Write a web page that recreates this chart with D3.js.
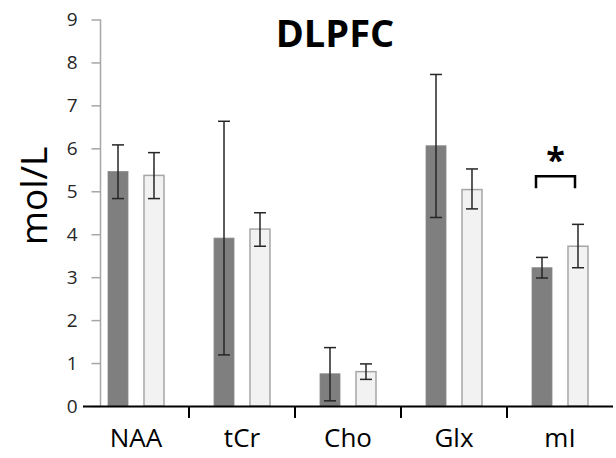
<!DOCTYPE html>
<html>
<head>
<meta charset="utf-8">
<script src="https://cdn.jsdelivr.net/npm/d3@7"></script>
<style>
  body { margin: 0; background: #fff; }
  text { font-family: 'Open Sans', sans-serif; }
</style>
</head>
<body>
<svg id="chart"></svg>
<script>
const categories = ['NAA', 'tCr', 'Cho', 'Glx', 'mI'];
const groups = ['g1', 'g2'];
const g1Values = [5.46, 3.91, 0.75, 6.06, 3.22];
const g1Low = [4.83, 1.19, 0.12, 4.39, 2.98];
const g1High = [6.08, 6.63, 1.36, 7.72, 3.46];
const g2Values = [5.37, 4.12, 0.80, 5.04, 3.72];
const g2Low = [4.83, 3.72, 0.62, 4.59, 3.22];
const g2High = [5.90, 4.50, 0.98, 5.52, 4.23];
const yTicks = [0, 1, 2, 3, 4, 5, 6, 7, 8, 9];
const significant = ['mI'];

const svgWidth = 616;
const svgHeight = 458;

const svg = d3.select('#chart')
  .attr('width', svgWidth)
  .attr('height', svgHeight);

const x0 = d3.scaleBand()
  .domain(categories)
  .range([83, 613]);

const x1 = d3.scaleBand()
  .domain(groups)
  .range([x0.bandwidth() / 2 - 28, x0.bandwidth() / 2 + 28])
  .paddingInner(0.444);

const y = d3.scaleLinear()
  .domain([0, 9])
  .range([406, 19.5]);

const fills = { g1: '#7f7f7f', g2: '#f2f2f2' };
const strokes = { g1: '#8a8a8a', g2: '#a6a6a6' };

const rows = categories.map((c, i) => ({
  cat: c,
  g1: { v: g1Values[i], lo: g1Low[i], hi: g1High[i] },
  g2: { v: g2Values[i], lo: g2Low[i], hi: g2High[i] },
}));

// y-axis (gray line, ticks on the left)
const yAxis = svg.append('g')
  .attr('transform', `translate(${100.5},0)`)
  .call(d3.axisLeft(y).tickValues(yTicks).tickSize(9).tickPadding(14));
yAxis.select('.domain').attr('stroke', '#a6a6a6').attr('stroke-width', 1.5)
  .attr('d', `M0,${y(9)}V${y(0)}`);
yAxis.selectAll('.tick line').attr('stroke', '#a6a6a6').attr('stroke-width', 1.5);
yAxis.selectAll('.tick text')
  .attr('font-size', 19)
  .attr('fill', '#262626')
  .attr('font-family', "'Open Sans', sans-serif");

// bars
const groupSel = svg.append('g')
  .selectAll('g')
  .data(rows)
  .enter()
  .append('g')
  .attr('transform', d => `translate(${x0(d.cat)},0)`);

groupSel.selectAll('rect')
  .data(d => groups.map(k => ({ key: k, ...d[k] })))
  .enter()
  .append('rect')
  .attr('x', d => x1(d.key))
  .attr('y', d => y(d.v))
  .attr('width', x1.bandwidth())
  .attr('height', d => y(0) - y(d.v))
  .attr('fill', d => fills[d.key])
  .attr('stroke', d => strokes[d.key])
  .attr('stroke-width', d => (d.key === 'g2' ? 1.5 : 0.8));

// error bars
const err = groupSel.selectAll('g.err')
  .data(d => groups.map(k => ({ key: k, ...d[k] })))
  .enter()
  .append('g')
  .attr('class', 'err')
  .attr('stroke', '#262626')
  .attr('stroke-width', 1.5);

const cx = d => x1(d.key) + x1.bandwidth() / 2;
err.append('line')
  .attr('x1', cx).attr('x2', cx)
  .attr('y1', d => y(d.lo)).attr('y2', d => y(d.hi));
['lo', 'hi'].forEach((end) => {
  err.append('line')
    .attr('x1', d => cx(d) - 6).attr('x2', d => cx(d) + 6)
    .attr('y1', d => y(d[end])).attr('y2', d => y(d[end]));
});

// x-axis
svg.append('line')
  .attr('x1', 83).attr('x2', 613)
  .attr('y1', y(0) + 0.5).attr('y2', y(0) + 0.5)
  .attr('stroke', '#000')
  .attr('stroke-width', 2);

svg.append('g')
  .selectAll('line')
  .data(categories.slice(1))
  .enter()
  .append('line')
  .attr('x1', d => x0(d)).attr('x2', d => x0(d))
  .attr('y1', y(0)).attr('y2', y(0) + 12)
  .attr('stroke', '#000')
  .attr('stroke-width', 2);

svg.append('g')
  .selectAll('text')
  .data(categories)
  .enter()
  .append('text')
  .attr('x', d => x0(d) + x0.bandwidth() / 2)
  .attr('y', 447)
  .attr('text-anchor', 'middle')
  .attr('font-size', 26)
  .attr('fill', '#000')
  .text(d => d);

// significance bracket
significant.forEach((c) => {
  const left = x0(c) + x1('g1') + x1.bandwidth() / 2 - 6;
  const right = x0(c) + x1('g2') + x1.bandwidth() / 2 - 3;
  const top = y(5.35);
  svg.append('path')
    .attr('d', `M${left},${top + 12}V${top}H${right}V${top + 12}`)
    .attr('fill', 'none')
    .attr('stroke', '#000')
    .attr('stroke-width', 2.5);
  svg.append('text')
    .attr('x', (left + right) / 2)
    .attr('y', top - 4)
    .attr('text-anchor', 'middle')
    .attr('font-size', 34)
    .attr('font-weight', 'bold')
    .text('*');
});

// title
svg.append('text')
  .attr('x', 335)
  .attr('y', 47)
  .attr('text-anchor', 'middle')
  .attr('font-size', 38)
  .attr('font-weight', 'bold')
  .text('DLPFC');

// y label
svg.append('text')
  .attr('transform', 'translate(47,196) rotate(-90)')
  .attr('text-anchor', 'middle')
  .attr('font-size', 37)
  .text('mol/L');
</script>
</body>
</html>
